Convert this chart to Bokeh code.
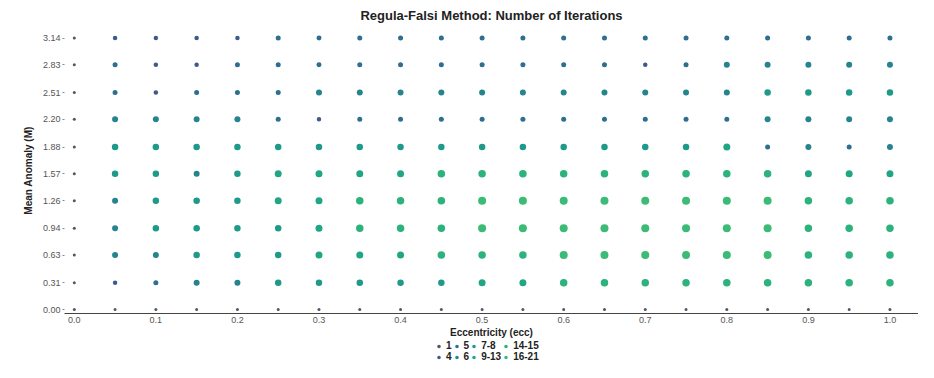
from bokeh.plotting import figure
from bokeh.layouts import column
from bokeh.models import ColumnDataSource, FixedTicker, Legend, LegendItem, PrintfTickFormatter
from bokeh.embed import file_html
from bokeh.resources import INLINE

# ---------------- data ----------------
ecc = [0.00, 0.05, 0.10, 0.15, 0.20, 0.25, 0.30, 0.35, 0.40, 0.45, 0.50,
       0.55, 0.60, 0.65, 0.70, 0.75, 0.80, 0.85, 0.90, 0.95, 1.00]
mean_anomaly = [0.00, 0.31, 0.63, 0.94, 1.26, 1.57, 1.88, 2.20, 2.51, 2.83, 3.14]
mean_anomaly_labels = ["0.00", "0.31", "0.63", "0.94", "1.26", "1.57", "1.88", "2.20", "2.51", "2.83", "3.14"]
ecc_ticks = [0.0, 0.1, 0.2, 0.3, 0.4, 0.5, 0.6, 0.7, 0.8, 0.9, 1.0]
iter_classes = ["1", "4", "5", "6", "7-8", "9-13", "14-15", "16-21"]

# iteration class per eccentricity, one list per mean-anomaly row
iters_M_0_00 = ["1", "1", "1", "1", "1", "1", "1", "1", "1", "1", "1",
                "1", "1", "1", "1", "1", "1", "1", "1", "1", "1"]
iters_M_0_31 = ["1", "4", "5", "6", "6", "7-8", "7-8", "7-8", "7-8", "7-8", "9-13",
                "9-13", "14-15", "14-15", "14-15", "14-15", "14-15", "14-15", "14-15", "14-15", "14-15"]
iters_M_0_63 = ["1", "6", "6", "7-8", "7-8", "7-8", "9-13", "9-13", "9-13", "14-15", "14-15",
                "14-15", "16-21", "16-21", "16-21", "16-21", "16-21", "16-21", "14-15", "14-15", "14-15"]
iters_M_0_94 = ["1", "6", "7-8", "7-8", "7-8", "7-8", "9-13", "14-15", "14-15", "14-15", "16-21",
                "16-21", "16-21", "16-21", "16-21", "16-21", "16-21", "16-21", "14-15", "14-15", "14-15"]
iters_M_1_26 = ["1", "6", "7-8", "7-8", "7-8", "9-13", "9-13", "14-15", "14-15", "14-15", "16-21",
                "16-21", "16-21", "16-21", "16-21", "16-21", "16-21", "16-21", "14-15", "14-15", "14-15"]
iters_M_1_57 = ["1", "7-8", "7-8", "6", "7-8", "9-13", "9-13", "9-13", "9-13", "14-15", "14-15",
                "14-15", "14-15", "14-15", "14-15", "14-15", "14-15", "14-15", "9-13", "9-13", "9-13"]
iters_M_1_88 = ["1", "7-8", "7-8", "7-8", "7-8", "7-8", "7-8", "7-8", "7-8", "7-8", "7-8",
                "7-8", "7-8", "7-8", "7-8", "7-8", "9-13", "5", "6", "5", "6"]
iters_M_2_20 = ["1", "6", "6", "6", "6", "5", "4", "5", "5", "5", "5",
                "5", "5", "5", "5", "5", "5", "6", "6", "6", "6"]
iters_M_2_51 = ["1", "5", "4", "5", "5", "5", "6", "6", "6", "6", "6",
                "6", "6", "6", "6", "6", "6", "7-8", "7-8", "7-8", "7-8"]
iters_M_2_83 = ["1", "5", "4", "4", "5", "5", "5", "5", "5", "5", "5",
                "5", "5", "5", "4", "5", "6", "6", "6", "6", "6"]
iters_M_3_14 = ["1", "4", "4", "4", "4", "5", "5", "5", "5", "5", "5",
                "5", "5", "5", "5", "5", "5", "5", "5", "5", "5"]

rows = [iters_M_0_00, iters_M_0_31, iters_M_0_63, iters_M_0_94, iters_M_1_26, iters_M_1_57,
        iters_M_1_88, iters_M_2_20, iters_M_2_51, iters_M_2_83, iters_M_3_14]

# ---------------- styles ----------------
class_color = {"1": "#55536a", "4": "#3d5a88", "5": "#2e6e8e", "6": "#25848e",
               "7-8": "#1f998a", "9-13": "#21a685", "14-15": "#2bb27d", "16-21": "#3bbb75"}
class_size = {"1": 3, "4": 4.5, "5": 5, "6": 6, "7-8": 6.5, "9-13": 7, "14-15": 7.5, "16-21": 8}

FONT = "Liberation Sans"

p = figure(width=918, height=340, output_backend="svg", toolbar_location=None,
           x_range=(-0.012, 1.035), y_range=(-0.045, 3.262),
           min_border_left=64, min_border_right=0, min_border_top=20, min_border_bottom=0)
p.outline_line_color = None
p.xgrid.visible = False
p.ygrid.visible = False

p.title.text = "Regula-Falsi Method: Number of Iterations"
p.title.align = "center"
p.title.text_font = FONT
p.title.text_font_size = "13px"
p.title.text_font_style = "bold"
p.title.text_color = "#222222"

sources = {}
for cls in iter_classes:
    xs, ys = [], []
    for m, row in zip(mean_anomaly, rows):
        for e, c in zip(ecc, row):
            if c == cls:
                xs.append(e)
                ys.append(m)
    sources[cls] = ColumnDataSource(dict(x=xs, y=ys))
    p.scatter("x", "y", source=sources[cls], size=class_size[cls],
              fill_color=class_color[cls], line_color=None)

# axes
xa = p.xaxis[0]
xa.ticker = FixedTicker(ticks=ecc_ticks)
xa.formatter = PrintfTickFormatter(format="%.1f")
xa.axis_label = "Eccentricity (ecc)"
xa.axis_label_text_font = FONT
xa.axis_label_text_font_style = "bold"
xa.axis_label_text_font_size = "10px"
xa.axis_label_text_color = "#222222"
xa.axis_label_standoff = 1
xa.major_label_text_font = FONT
xa.major_label_text_font_size = "9px"
xa.major_label_text_color = "#555555"
xa.major_label_standoff = 3
xa.major_tick_out = 0
xa.major_tick_in = 0
xa.minor_tick_out = 0
xa.minor_tick_in = 0
xa.axis_line_color = "#444444"
xa.axis_line_width = 1

ya = p.yaxis[0]
ya.ticker = FixedTicker(ticks=mean_anomaly)
ya.major_label_overrides = {m: lab for m, lab in zip(mean_anomaly, mean_anomaly_labels)}
ya.axis_label = "Mean Anomaly (M)"
ya.axis_label_text_font = FONT
ya.axis_label_text_font_style = "bold"
ya.axis_label_text_font_size = "10px"
ya.axis_label_text_color = "#222222"
ya.axis_label_standoff = 6
ya.major_label_text_font = FONT
ya.major_label_text_font_size = "9px"
ya.major_label_text_color = "#555555"
ya.major_label_standoff = 2
ya.major_tick_out = 2
ya.major_tick_in = 0
ya.major_tick_line_color = "#888888"
ya.minor_tick_out = 0
ya.minor_tick_in = 0
ya.axis_line_color = None

# ---------------- legend strip (same sources, points fall outside its range) ----------------
leg = figure(width=918, height=22, output_backend="svg", toolbar_location=None,
             x_range=(0, 1), y_range=(100, 101), x_axis_location=None, y_axis_location=None,
             min_border_left=0, min_border_right=0, min_border_top=0, min_border_bottom=0)
leg.outline_line_color = None
leg.xgrid.visible = False
leg.ygrid.visible = False

items = []
for cls in iter_classes:
    r = leg.scatter("x", "y", source=sources[cls], size=class_size[cls],
                    fill_color=class_color[cls], line_color=None)
    items.append(LegendItem(label=cls, renderers=[r]))

legend = Legend(items=items, orientation="vertical", nrows=2, location=(370, 0),
                label_text_font=FONT, label_text_font_size="10px", label_text_font_style="bold",
                label_text_color="#222222", label_height=10, label_width=5, label_standoff=3,
                glyph_width=9, glyph_height=10, spacing=0, padding=1, margin=0,
                border_line_color=None, background_fill_alpha=0)
leg.add_layout(legend, "center")

layout = column(p, leg, spacing=0)
open("out.html", "w").write(file_html(layout, INLINE))
